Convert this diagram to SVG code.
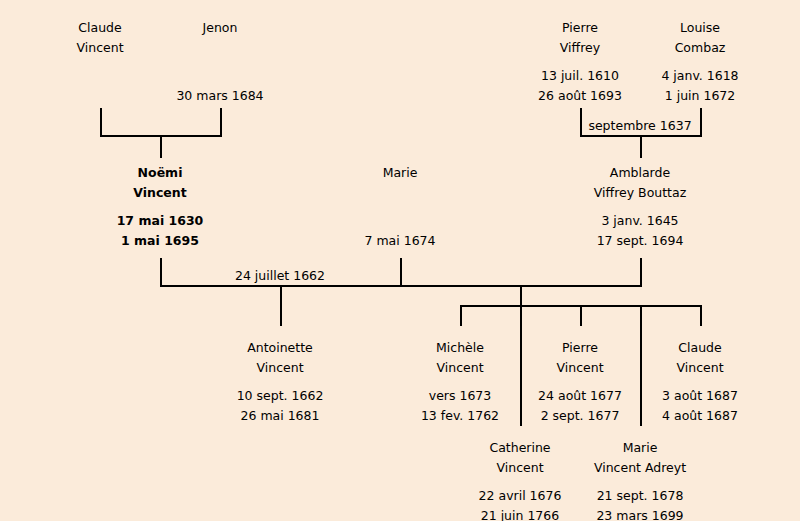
<svg xmlns="http://www.w3.org/2000/svg" width="800" height="521" viewBox="0 0 800 521">
<style>
text{font-family:"Comic Sans MS","DejaVu Sans","Liberation Sans",sans-serif;font-size:12.5px;fill:#000;text-anchor:middle;dominant-baseline:central}
.b{font-weight:bold}
#connectors path{fill:none;stroke:#000;stroke-width:2}
</style>
<rect width="800" height="521" fill="#fbebda"/>
<g id="connectors">
<path d="M101 108V136H221V108M161 136V158"/>
<path d="M581 108V136H701V108M641 136V158"/>
<path d="M161 258V286H641V258M401 258V286"/>
<path d="M281 286V326M521 286V426"/>
<path d="M461 326V306H701V326M581 306V326M641 306V426"/>
<text x="640" y="125">septembre 1637</text>
<text x="280" y="275">24 juillet 1662</text>
</g>
<g id="claude-vincent"><text x="100" y="27">Claude</text><text x="100" y="47">Vincent</text></g>
<g id="jenon"><text x="220" y="27">Jenon</text><text x="220" y="95">30 mars 1684</text></g>
<g id="pierre-viffrey"><text x="580" y="27">Pierre</text><text x="580" y="47">Viffrey</text><text x="580" y="75">13 juil. 1610</text><text x="580" y="95">26 août 1693</text></g>
<g id="louise-combaz"><text x="700" y="27">Louise</text><text x="700" y="47">Combaz</text><text x="700" y="75">4 janv. 1618</text><text x="700" y="95">1 juin 1672</text></g>
<g id="noemi-vincent" class="b"><text class="b" x="160" y="172">Noëmi</text><text class="b" x="160" y="192">Vincent</text><text class="b" x="160" y="220">17 mai 1630</text><text class="b" x="160" y="240">1 mai 1695</text></g>
<g id="marie"><text x="400" y="172">Marie</text><text x="400" y="240">7 mai 1674</text></g>
<g id="amblarde"><text x="640" y="172">Amblarde</text><text x="640" y="192">Viffrey Bouttaz</text><text x="640" y="220">3 janv. 1645</text><text x="640" y="240">17 sept. 1694</text></g>
<g id="antoinette"><text x="280" y="347">Antoinette</text><text x="280" y="367">Vincent</text><text x="280" y="395">10 sept. 1662</text><text x="280" y="415">26 mai 1681</text></g>
<g id="michele"><text x="460" y="347">Michèle</text><text x="460" y="367">Vincent</text><text x="460" y="395">vers 1673</text><text x="460" y="415">13 fev. 1762</text></g>
<g id="pierre-vincent"><text x="580" y="347">Pierre</text><text x="580" y="367">Vincent</text><text x="580" y="395">24 août 1677</text><text x="580" y="415">2 sept. 1677</text></g>
<g id="claude-vincent-2"><text x="700" y="347">Claude</text><text x="700" y="367">Vincent</text><text x="700" y="395">3 août 1687</text><text x="700" y="415">4 août 1687</text></g>
<g id="catherine"><text x="520" y="447">Catherine</text><text x="520" y="467">Vincent</text><text x="520" y="495">22 avril 1676</text><text x="520" y="515">21 juin 1766</text></g>
<g id="marie-adreyt"><text x="640" y="447">Marie</text><text x="640" y="467">Vincent Adreyt</text><text x="640" y="495">21 sept. 1678</text><text x="640" y="515">23 mars 1699</text></g>
</svg>
